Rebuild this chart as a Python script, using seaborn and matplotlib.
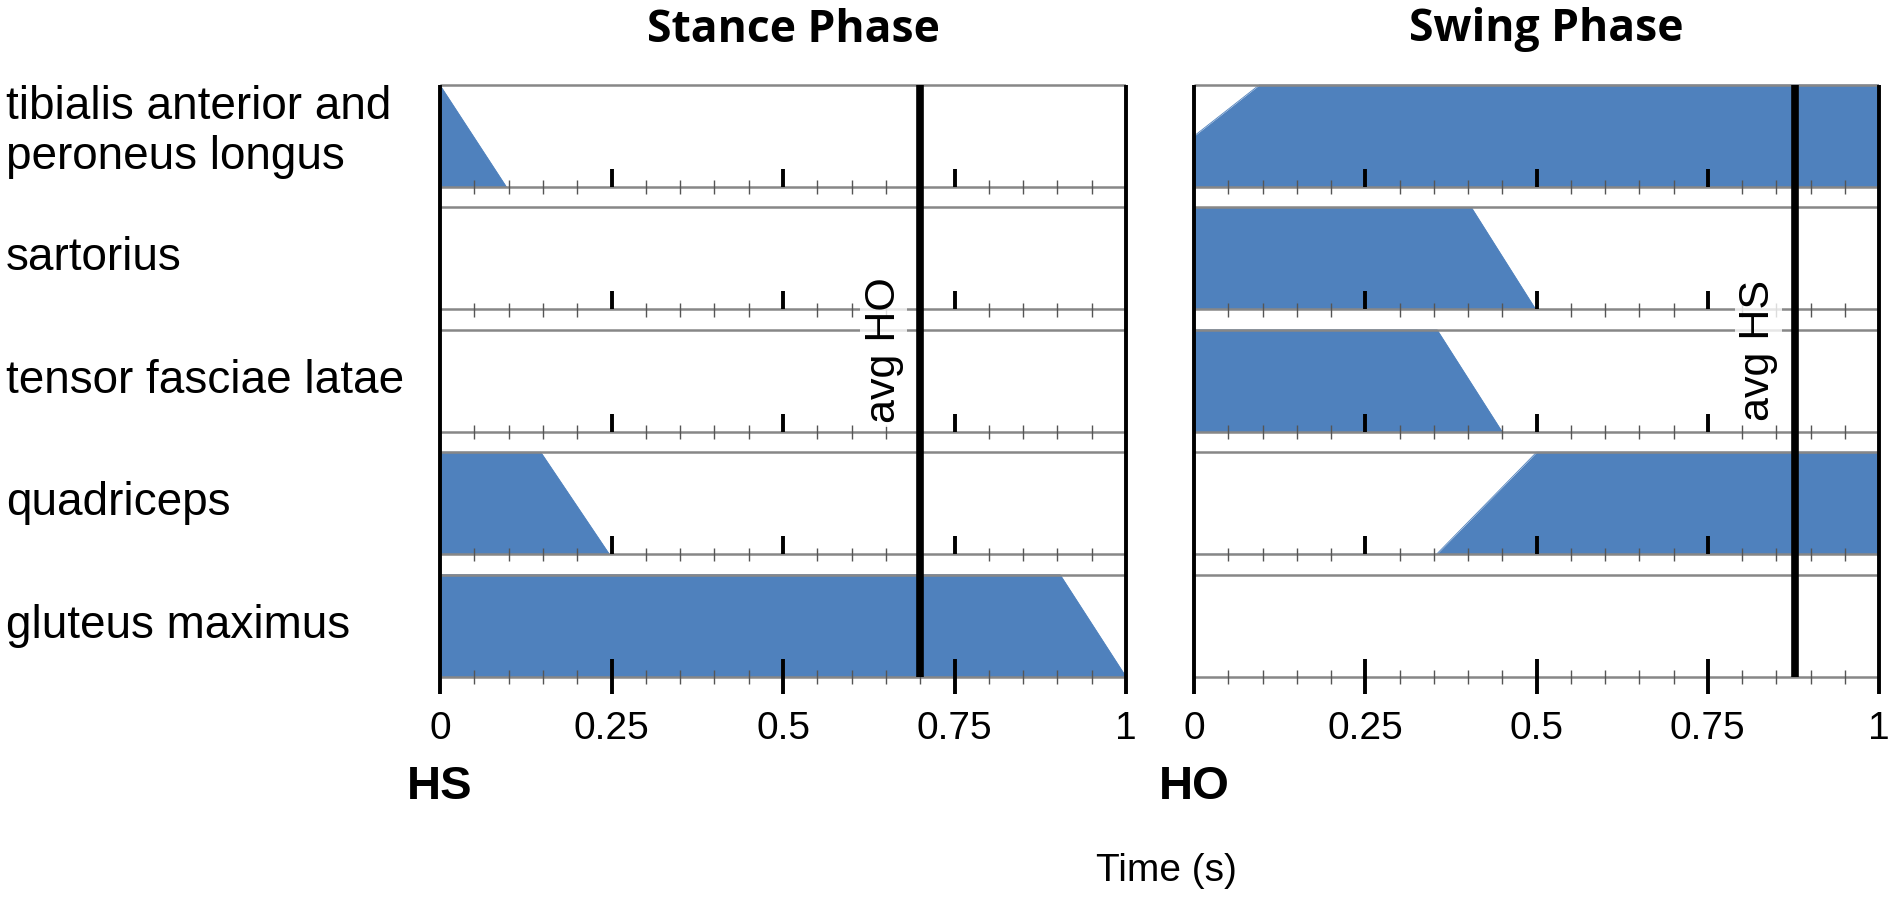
import numpy as np
import pandas as pd
import seaborn as sns
import matplotlib.pyplot as plt
from matplotlib import transforms

# ---------------- data ----------------
muscles = ["tibialis anterior and\nperoneus longus", "sartorius",
           "tensor fasciae latae", "quadriceps", "gluteus maximus"]

# Stance phase activity (time fraction, activity 0..1)
stance_tib_t = [0.0, 0.097]
stance_tib_a = [1.0, 0.0]
stance_sart_t = []
stance_sart_a = []
stance_tfl_t = []
stance_tfl_a = []
stance_quad_t = [0.0, 0.147, 0.247]
stance_quad_a = [1.0, 1.0, 0.0]
stance_glut_t = [0.0, 0.904, 1.0]
stance_glut_a = [1.0, 1.0, 0.0]

# Swing phase activity
swing_tib_t = [0.0, 0.095, 1.0]
swing_tib_a = [0.5, 1.0, 1.0]
swing_sart_t = [0.0, 0.405, 0.499]
swing_sart_a = [1.0, 1.0, 0.0]
swing_tfl_t = [0.0, 0.355, 0.45]
swing_tfl_a = [1.0, 1.0, 0.0]
swing_quad_t = [0.0, 0.354, 0.5, 1.0]
swing_quad_a = [0.0, 0.0, 1.0, 1.0]
swing_glut_t = []
swing_glut_a = []

avg_ho = 0.70
avg_hs = 0.877

major_ticks = [0, 0.25, 0.5, 0.75, 1]
major_labels = ["0", "0.25", "0.5", "0.75", "1"]
panel_titles = ["Stance Phase", "Swing Phase"]
event_labels = ["HS", "HO"]
avg_labels = ["avg HO", "avg HS"]
xlabel = "Time (s)"

# ---------------- style ----------------
sns.set_theme(style="white")
plt.rcParams["font.family"] = ["Liberation Sans", "DejaVu Sans"]
plt.rcParams["text.color"] = "black"
plt.rcParams["xtick.color"] = "black"
plt.rcParams["xtick.labelcolor"] = "black"
plt.rcParams["axes.labelcolor"] = "black"

BLUE = "#4f81bd"
GREY = "#878787"
TICKGREY = "#555555"
ROW_STEP = 1.2
TOP = 4 * ROW_STEP + 1.0
W, H = 1892, 905

fig = plt.figure(figsize=(W / 100, H / 100), dpi=100)

ax_bottom_px = 694
ax_top_px = 83
ylo, yhi = -0.17, 5.82
axes_pos = [(440, 686), (1194, 685)]

stance = [(stance_tib_t, stance_tib_a), (stance_sart_t, stance_sart_a),
          (stance_tfl_t, stance_tfl_a), (stance_quad_t, stance_quad_a),
          (stance_glut_t, stance_glut_a)]
swing = [(swing_tib_t, swing_tib_a), (swing_sart_t, swing_sart_a),
         (swing_tfl_t, swing_tfl_a), (swing_quad_t, swing_quad_a),
         (swing_glut_t, swing_glut_a)]

minor = [round(v, 2) for v in np.arange(0.05, 1.0, 0.05)
         if not any(abs(v - m) < 1e-6 for m in major_ticks)]


def draw_panel(ax, series, avg_x, avg_label):
    for i, (t, a) in enumerate(series):
        base = (4 - i) * ROW_STEP
        if len(t):
            df = pd.DataFrame({"t": t, "a": np.array(a) + base})
            ax.fill_between(df["t"], base, df["a"], color=BLUE, lw=0, zorder=1)
            sns.lineplot(data=df, x="t", y="a", ax=ax, color=BLUE, lw=0.6,
                         zorder=1, legend=False)
        ax.hlines([base, base + 1.0], 0, 1, color=GREY, lw=1.8, zorder=2)
        ax.vlines(minor, base - 0.07, base + 0.065, color=TICKGREY, lw=1.0,
                  zorder=3)
        lo = base - 0.167 if i == 4 else base
        ax.vlines([0.25, 0.5, 0.75], lo, base + 0.176, color="black",
                  lw=2.8, zorder=3)
    ax.vlines([0, 1], -0.167, TOP, color="black", lw=2.8, zorder=4,
              clip_on=False)
    ax.vlines(avg_x, 0, TOP, color="black", lw=5.5, zorder=5)
    ax.annotate(avg_label, xy=(avg_x, 3.2), xytext=(-12, 0),
                textcoords="offset points", rotation=90, ha="right",
                va="center", fontsize=31, zorder=6, color="black",
                bbox=dict(boxstyle="square,pad=0.08", fc="white", ec="none",
                          alpha=0.8))
    ax.set_xlim(0, 1)
    ax.set_ylim(ylo, yhi)
    ax.set_xticks(major_ticks, labels=major_labels)
    ax.set_yticks([])
    ax.tick_params(axis="x", length=0, pad=12, labelsize=28,
                   labelcolor="black")
    ax.set_xlabel("")
    ax.set_ylabel("")
    for s in ax.spines.values():
        s.set_visible(False)
    ax.patch.set_alpha(0)


axes = []
for k, (left, width) in enumerate(axes_pos):
    ax = fig.add_axes([left / W, 1 - ax_bottom_px / H, width / W,
                       (ax_bottom_px - ax_top_px) / H])
    axes.append(ax)

draw_panel(axes[0], stance, avg_ho, avg_labels[0])
draw_panel(axes[1], swing, avg_hs, avg_labels[1])

# panel titles
for k, (left, width) in enumerate(axes_pos):
    fig.text((left + width / 2 + 10) / W, 1 - 30 / H, panel_titles[k],
             ha="center", va="center", fontsize=32, fontweight="bold",
             family=["Open Sans", "DejaVu Sans"], color="black")
    tr = transforms.blended_transform_factory(axes[k].transData, fig.transFigure)
    axes[k].text(0, 1 - 787 / H, event_labels[k], transform=tr, ha="center",
                 va="center", fontsize=34, fontweight="bold", color="black")

# row labels
trl = transforms.blended_transform_factory(fig.transFigure, axes[0].transData)
for i, name in enumerate(muscles):
    base = (4 - i) * ROW_STEP
    axes[0].text(6 / W, base + 0.5 + (0.04 if "\n" in name else 0.0), name,
                 transform=trl, ha="left", va="center", fontsize=33,
                 linespacing=1.2, color="black")

fig.text(1166 / W, 1 - 871 / H, xlabel, ha="center", va="center",
         fontsize=28, color="black")

fig.savefig("out.png", dpi=100)
